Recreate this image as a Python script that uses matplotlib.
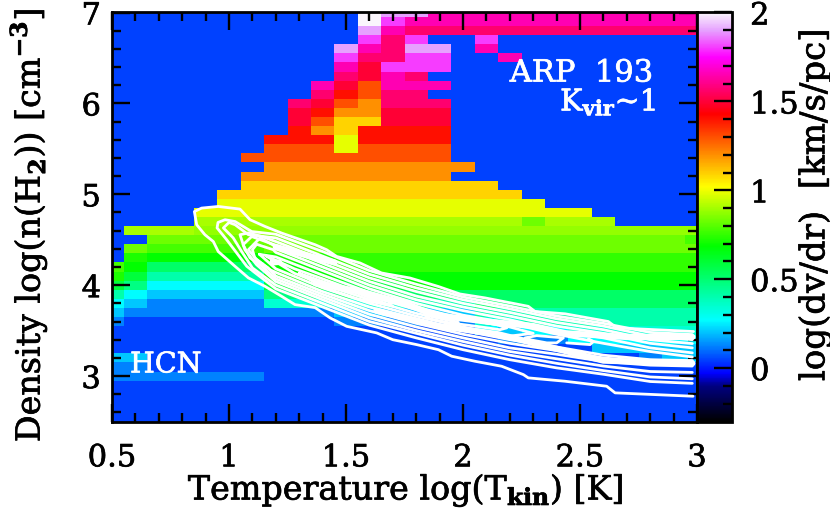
import numpy as np
import matplotlib
matplotlib.use("Agg")
import matplotlib.pyplot as plt
import matplotlib.patheffects as pe
from matplotlib.colors import LinearSegmentedColormap, Normalize

plt.rcParams["font.family"] = "DejaVu Serif"
plt.rcParams["mathtext.fontset"] = "custom"
plt.rcParams["mathtext.rm"] = "DejaVu Serif"
plt.rcParams["mathtext.bf"] = "DejaVu Serif:bold"

log_tkin = [round(0.5 + 0.1 * k, 1) for k in range(26)]
log_density = [round(7.0 - 0.1 * k, 1) for k in range(46)]

# log(dv/dr) of each colour step seen in the cells
dvdr_levels = {
    "a": 0.05, "b": 0.123, "c": 0.205, "d": 0.27, "e": 0.343, "f": 0.408,
    "g": 0.473, "h": 0.522, "i": 0.587, "j": 0.685, "k": 0.724, "l": 0.751,
    "m": 0.777, "n": 0.83, "o": 0.88, "p": 0.908, "q": 0.987, "r": 1.092,
    "s": 1.197, "t": 1.30, "u": 1.406, "v": 1.493, "w": 1.568, "x": 1.65,
    "y": 1.806, "z": 1.9, "W": 2.0,
}

# one string per density row (top to bottom), one letter per temperature
dvdr_rows = [
    "a"*11 + "Wzz" + "x"*12,
    "a"*11 + "Wy" + "x"*13,
    "a"*11 + "zx" + "w"*13,
    "a"*11 + "ywyaay" + "a"*9,
    "a"*10 + "zxwzzax" + "a"*9,
    "a"*10 + "ywwyyaax" + "a"*8,
    "a"*10 + "xvyyy" + "a"*11,
    "a"*10 + "wvxw" + "a"*12,
    "a"*9 + "xvtxxx" + "a"*11,
    "a"*9 + "wutww" + "a"*12,
    "a"*8 + "wvtswww" + "a"*11,
    "a"*8 + "vussvvv" + "a"*11,
    "a"*8 + "vtrrvvv" + "a"*11,
    "a"*8 + "usruuuu" + "a"*11,
    "a"*7 + "uuuquuuu" + "a"*11,
    "a"*7 + "tttqtttt" + "a"*11,
    "a"*6 + "t"*9 + "a"*11,
    "a"*7 + "s"*9 + "a"*10,
    "a"*6 + "s"*9 + "a"*11,
    "a"*6 + "r"*11 + "a"*9,
    "a"*5 + "r"*13 + "a"*8,
    "a"*5 + "q"*14 + "a"*7,
    "a"*4 + "q"*17 + "a"*5,
    "a"*4 + "p"*14 + "nppp" + "a"*4,
    "appp" + "o"*22,
    "aa" + "n"*23 + "m",
    "anmmmmm" + "n"*19,
    "akjjjjjkkk" + "l"*16,
    "mjhhhhhjjj" + "l"*16,
    "kifffff" + "j"*19,
    "igddddd" + "i"*6 + "j"*13,
    "fdccccc" + "ggg" + "h"*16,
    "dcbbbbb" + "e"*6 + "fff" + "h"*10,
    "c" + "b"*9 + "c"*6 + "f"*10,
    "b" + "a"*9 + "b"*6 + "ee" + "f"*8,
    "a"*16 + "dcdd" + "e"*6,
    "a"*16 + "abbb" + "d"*6,
    "a"*21 + "c"*5,
    "cc" + "a"*21 + "bcc",
    "bb" + "a"*24,
    "b"*7 + "a"*19,
    "a"*26, "a"*26, "a"*26, "a"*26, "a"*26,
]

# shared temperature knots of the contour families
knot_t = [1.2, 1.4, 1.6, 1.8, 2.0, 2.2, 2.4, 2.6, 2.8, 2.98]

lower_2 = [3.96, 3.76, 3.56, 3.42, 3.29, 3.18, 3.09, 3.02, 2.94, 2.92]
lower_3 = [4.00, 3.80, 3.60, 3.47, 3.34, 3.23, 3.14, 3.06, 2.99, 2.97]
lower_4 = [4.04, 3.84, 3.64, 3.50, 3.38, 3.27, 3.19, 3.11, 3.05, 3.04]
lower_5 = [4.07, 3.87, 3.68, 3.54, 3.42, 3.31, 3.24, 3.16, 3.12, 3.11]
lower_6 = [4.10, 3.90, 3.72, 3.58, 3.46, 3.36, 3.28, 3.20, 3.15, 3.145]
lower_7 = [4.14, 3.93, 3.76, 3.62, 3.50, 3.40, 3.32, 3.23, 3.18, 3.17]

upper_2 = [4.56, 4.37, 4.16, 4.01, 3.87, 3.77, 3.66, 3.58, 3.48, 3.456]
upper_3 = [4.52, 4.32, 4.12, 3.97, 3.84, 3.74, 3.63, 3.55, 3.44, 3.40]
upper_4 = [4.48, 4.28, 4.08, 3.93, 3.80, 3.70, 3.59, 3.51, 3.40, 3.357]
upper_5 = [4.44, 4.24, 4.04, 3.88, 3.76, 3.66, 3.55, 3.47, 3.36, 3.31]
upper_6 = [4.40, 4.20, 4.00, 3.84, 3.72, 3.62, 3.50, 3.42, 3.31, 3.255]
upper_7 = [4.36, 4.16, 3.96, 3.80, 3.67, 3.58, 3.46, 3.36, 3.27, 3.21]

# left caps of the nested contours: (t, n) from upper side round the tip to lower side
cap_2_t = [1.097, 1.026, 0.983, 0.953, 0.949, 0.99, 1.033, 1.076]
cap_2_n = [4.59, 4.70, 4.72, 4.69, 4.63, 4.50, 4.354, 4.207]
cap_3_t = [1.083, 1.026, 1.0, 0.976, 1.018, 1.054, 1.10]
cap_3_n = [4.555, 4.665, 4.69, 4.63, 4.52, 4.37, 4.19]
cap_4_t = [1.14, 1.083, 1.047, 1.068, 1.118]
cap_4_n = [4.535, 4.575, 4.555, 4.39, 4.225]
cap_5_t = [1.167, 1.097, 1.06, 1.09, 1.14]
cap_5_n = [4.47, 4.535, 4.445, 4.30, 4.21]
cap_6_t = [1.197, 1.133, 1.083, 1.118, 1.167]
cap_6_n = [4.43, 4.52, 4.39, 4.28, 4.19]
cap_7_t = [1.189, 1.118, 1.10, 1.11, 1.175]
cap_7_n = [4.39, 4.45, 4.39, 4.30, 4.17]

# innermost closed loops that fill the middle of the band
loop_8_t = [1.13, 1.2, 1.4, 1.6, 1.8, 2.0, 2.2, 2.3, 2.2, 2.0, 1.8, 1.6, 1.4, 1.2, 1.13]
loop_8_n = [4.34, 4.31, 4.11, 3.92, 3.76, 3.63, 3.54, 3.47, 3.44, 3.54, 3.66, 3.80, 3.97, 4.18, 4.34]
loop_9_t = [1.16, 1.28, 1.4, 1.6, 1.8, 1.98, 1.8, 1.6, 1.4, 1.28, 1.16]
loop_9_n = [4.32, 4.18, 4.07, 3.88, 3.73, 3.59, 3.69, 3.84, 4.01, 4.13, 4.32]
loop_10_t = [1.3, 1.4, 1.55, 1.7, 1.55, 1.4, 1.3]
loop_10_n = [4.13, 4.04, 3.91, 3.77, 3.85, 3.98, 4.13]

# where contours crowd together and merge into solid white
crowd_a_t = [1.2, 1.33, 1.45]
crowd_a_n = [4.42, 4.33, 4.25]
crowd_b_t = [1.37, 1.56, 1.75, 1.88, 2.1, 2.3, 2.44, 2.7, 2.98]
crowd_b_n = [4.02, 3.93, 3.80, 3.67, 3.60, 3.55, 3.47, 3.43, 3.43]
crowd_c_t = [1.63, 1.9, 2.15, 2.4, 2.6, 2.98]
crowd_c_n = [3.72, 3.55, 3.46, 3.30, 3.17, 3.14]

# outermost contour, traced point by point
outer_t = [2.985, 2.657, 2.621, 2.436, 2.308, 2.279, 2.094, 1.987, 1.895, 1.773,
           1.652, 1.56, 1.46, 1.417, 1.368, 1.225, 1.154, 1.09, 1.047, 0.954,
           0.883, 0.852, 0.862, 0.897, 0.933, 0.954, 1.026, 1.083, 1.154, 1.225,
           1.282, 1.368, 1.432, 1.503, 1.631, 1.70, 1.802, 1.895, 1.952, 2.051,
           2.165, 2.258, 2.279, 2.436, 2.614, 2.65, 2.983]
outer_n = [3.49, 3.53, 3.60, 3.685, 3.71, 3.767, 3.86, 3.903, 3.985, 4.079,
           4.134, 4.244, 4.316, 4.39, 4.445, 4.573, 4.646, 4.72, 4.837, 4.866,
           4.848, 4.81, 4.665, 4.555, 4.48, 4.37, 4.207, 4.08, 3.987, 3.877,
           3.786, 3.753, 3.64, 3.547, 3.475, 3.40, 3.346, 3.29, 3.218, 3.163,
           3.108, 3.016, 2.98, 2.943, 2.888, 2.815, 2.778]

# small closed islands inside the contour band
island_a_t = [1.838, 1.873, 2.016, 2.144, 2.187, 2.158, 2.058, 1.944, 1.838]
island_a_n = [3.64, 3.676, 3.62, 3.566, 3.53, 3.51, 3.547, 3.585, 3.64]
island_b_t = [2.265, 2.315, 2.429, 2.40, 2.358, 2.265]
island_b_n = [3.42, 3.445, 3.42, 3.365, 3.365, 3.41]
island_c_t = [2.443, 2.543, 2.557, 2.536]
island_c_n = [3.365, 3.346, 3.38, 3.41]
island_d_t = [1.18, 1.218, 1.225, 1.185, 1.18]
island_d_n = [4.26, 4.27, 4.24, 4.23, 4.26]
island_e_t = [1.603, 1.645, 1.717, 1.674, 1.603]
island_e_n = [3.84, 3.86, 3.82, 3.785, 3.84]

x_ticks = [0.5, 1, 1.5, 2, 2.5, 3]
x_labels = ["0.5", "1", "1.5", "2", "2.5", "3"]
y_ticks = [3, 4, 5, 6, 7]
cbar_ticks = [0, 0.5, 1, 1.5, 2]
cbar_labels = ["0", "0.5", "1", "1.5", "2"]

# colour scale
cmap_values = [-0.3, -0.1, -0.03, 0.27, 0.685, 1.02, 1.43, 1.75, 1.9, 2.0]
cmap_colors = ["#000000", "#000082", "#0000ff", "#00ffff", "#00ff00",
               "#ffff00", "#ff0000", "#ff00ff", "#e6a0ff", "#faf5fc"]

vmin, vmax = -0.3, 2.0
stops = [(v - vmin) / (vmax - vmin) for v in cmap_values]
cmap = LinearSegmentedColormap.from_list("dvdr", list(zip(stops, cmap_colors)), N=512)

grid = np.array([[dvdr_levels[c] for c in row] for row in dvdr_rows])

fig = plt.figure(figsize=(8.3, 5.11), dpi=100)
W, H = 830.0, 511.0
ax = fig.add_axes([112 / W, 1 - 421.5 / H, 585 / W, 409 / H])
cax = fig.add_axes([697 / W, 1 - 421.5 / H, 35 / W, 409 / H])

mesh = ax.pcolormesh(log_tkin, log_density, grid, cmap=cmap, shading="nearest",
                     norm=Normalize(vmin, vmax), antialiased=False)
ax.set_xlim(0.5, 3)
ax.set_ylim(2.5, 7)

# contours
line_kw = dict(color="white", lw=2.0, solid_joinstyle="round", solid_capstyle="round")
ax.plot(outer_t, outer_n, **line_kw)
families = [
    (upper_2, cap_2_t, cap_2_n, lower_2),
    (upper_3, cap_3_t, cap_3_n, lower_3),
    (upper_4, cap_4_t, cap_4_n, lower_4),
    (upper_5, cap_5_t, cap_5_n, lower_5),
    (upper_6, cap_6_t, cap_6_n, lower_6),
    (upper_7, cap_7_t, cap_7_n, lower_7),
]
for up, cap_t, cap_n, low in families:
    ts = knot_t[::-1] + cap_t + knot_t
    ns = up[::-1] + cap_n + low
    ax.plot(ts, ns, **line_kw)
for t, n in [(loop_8_t, loop_8_n), (loop_9_t, loop_9_n), (loop_10_t, loop_10_n),
             (island_a_t, island_a_n), (island_b_t, island_b_n), (island_c_t, island_c_n),
             (island_d_t, island_d_n), (island_e_t, island_e_n)]:
    ax.plot(t, n, **line_kw)
for t, n in [(crowd_a_t, crowd_a_n), (crowd_b_t, crowd_b_n), (crowd_c_t, crowd_c_n)]:
    ax.plot(t, n, color="white", lw=4.5, solid_capstyle="round", solid_joinstyle="round")

ax.set_xticks(x_ticks)
ax.set_xticklabels(x_labels)
ax.set_yticks(y_ticks)
ax.set_xticks(np.arange(0.5, 3.01, 0.1), minor=True)
ax.set_yticks(np.arange(2.6, 7.01, 0.2), minor=True)
ax.tick_params(which="major", direction="in", top=True, right=True, length=13, width=1.7,
               labelsize=22, pad=15)
ax.tick_params(which="minor", direction="in", top=True, right=True, length=6.5, width=1.7)
ax.tick_params(axis="y", which="major", pad=8)
for spine in ax.spines.values():
    spine.set_linewidth(2)

cbar = fig.colorbar(mesh, cax=cax, ticks=cbar_ticks)
cbar.ax.set_yticklabels(cbar_labels, ha="left")
cbar.ax.set_yticks(np.arange(-0.2, 2.0, 0.1), minor=True)
cbar.ax.tick_params(which="major", direction="in", length=13, width=1.7, labelsize=22, pad=13)
cbar.ax.tick_params(which="minor", direction="in", length=6.5, width=1.7)
cbar.outline.set_linewidth(2)

texts = [
    fig.text(406 / W, 1 - 490 / H, r"Temperature log(T$_{\mathbf{kin}}$) [K]", ha="center", va="center", fontsize=24),
    fig.text(28 / W, 1 - 225 / H, r"Density log(n(H$_{\mathbf{2}}$)) [cm$^{\mathbf{-3}}$]",
             rotation=90, ha="center", va="center", fontsize=24),
    fig.text(815 / W, 1 - 205 / H, "log(dv/dr)  [km/s/pc]", rotation=90, ha="center", va="center", fontsize=24.5),
    ax.text(2.2, 6.24, "ARP  193", color="white", fontsize=22),
    ax.text(2.415, 5.92, r"K$_{\mathbf{vir}}$~1", color="white", fontsize=21.5),
    ax.text(0.577, 3.04, "HCN", color="white", fontsize=20.5),
]
texts += ax.get_xticklabels() + ax.get_yticklabels() + cbar.ax.get_yticklabels()
# the original lettering has heavy strokes
for t in texts:
    t.set_path_effects([pe.withStroke(linewidth=0.5, foreground=t.get_color())])

fig.savefig("out.png", dpi=100)
